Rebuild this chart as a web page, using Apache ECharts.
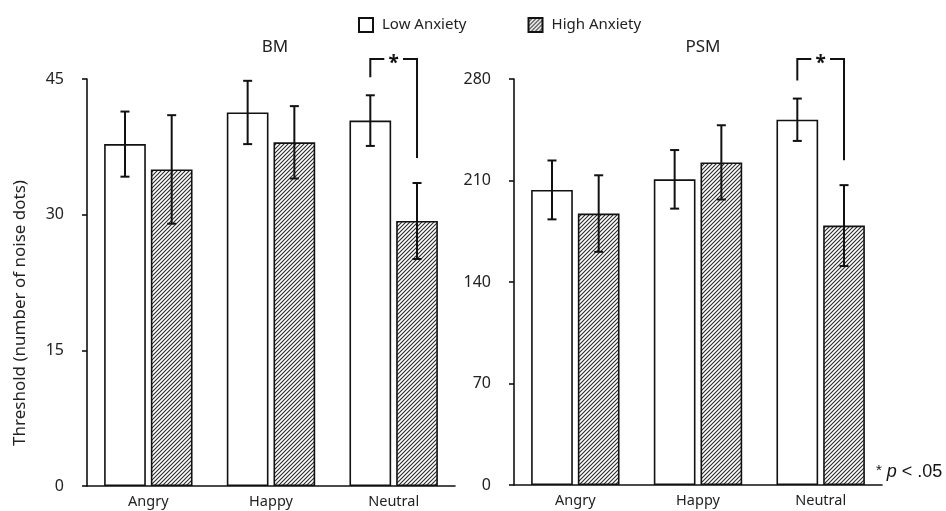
<!DOCTYPE html>
<html>
<head>
<meta charset="utf-8">
<script src="https://cdn.jsdelivr.net/npm/echarts@6/dist/echarts.min.js"></script>
<style>
  html, body { margin: 0; padding: 0; background: #fff; }
  #chart { width: 946px; height: 511px; }
</style>
</head>
<body>
<div id="chart"></div>
<script>
// Emotion categories shared by both panels
const categories = ['Angry', 'Happy', 'Neutral'];

// BM panel: means and error half-widths
const bmLow = [37.8, 41.3, 40.4];
const bmLowErr = [3.6, 3.5, 2.8];
const bmHigh = [35.0, 38.0, 29.3];
const bmHighErr = [6.0, 4.0, 4.2];

// PSM panel: means and error half-widths
const psmLow = [203.5, 210.8, 251.9];
const psmLowErr = [20.3, 20.2, 14.6];
const psmHigh = [187.2, 222.5, 178.9];
const psmHighErr = [26.4, 25.6, 27.9];

// Axis tick settings
const bmAxis = { max: 45, interval: 15 };
const psmAxis = { max: 280, interval: 70 };

// Index of the category marked as significant
const sigIndex = 2;

const FONT = 'Noto Sans';
const INK = '#222';
const BAR_FRAC = 0.34;   // bar width as a fraction of the category band
const BAR_GAP = 0.12;    // gap between paired bars, fraction of bar width

// Diagonal hatch fill for the High Anxiety bars
function makeHatch() {
  const s = 4;
  const c = document.createElement('canvas');
  c.width = s; c.height = s;
  const ctx = c.getContext('2d');
  ctx.fillStyle = '#fff';
  ctx.fillRect(0, 0, s, s);
  ctx.strokeStyle = '#2a2a2a';
  ctx.lineWidth = 1.1;
  ctx.beginPath();
  ctx.moveTo(0, s); ctx.lineTo(s, 0);
  ctx.moveTo(-1, 1); ctx.lineTo(1, -1);
  ctx.moveTo(s - 1, s + 1); ctx.lineTo(s + 1, s - 1);
  ctx.stroke();
  return c;
}
const hatch = { image: makeHatch(), repeat: 'repeat' };

function barOffset(band, side) {
  const w = band * BAR_FRAC;
  return side * (w + w * BAR_GAP) / 2;
}

// Error bars drawn at the centre of each bar in a pair
function errorRender(side) {
  return function (params, api) {
    const cat = api.value(0);
    const v = api.value(1);
    const e = api.value(2);
    const band = api.size([1, 0])[0];
    const x = api.coord([cat, v])[0] + barOffset(band, side);
    const yTop = api.coord([cat, v + e])[1];
    const yBot = api.coord([cat, v - e])[1];
    const cap = 4.5;
    const style = { stroke: '#111', lineWidth: 2, fill: 'none' };
    return {
      type: 'group',
      children: [
        { type: 'line', shape: { x1: x, y1: yTop, x2: x, y2: yBot }, style },
        { type: 'line', shape: { x1: x - cap, y1: yTop, x2: x + cap, y2: yTop }, style },
        { type: 'line', shape: { x1: x - cap, y1: yBot, x2: x + cap, y2: yBot }, style }
      ]
    };
  };
}

// Significance bracket joining the two bars of one category
function bracketRender(params, api) {
  const cat = api.value(0);
  const lowTop = api.value(1);
  const highTop = api.value(2);
  const axisTop = api.value(3);
  const band = api.size([1, 0])[0];
  const cx = api.coord([cat, 0])[0];
  const xl = cx + barOffset(band, -1);
  const xr = cx + barOffset(band, 1);
  const yTopLine = api.coord([cat, axisTop])[1] - 20;
  const yl = api.coord([cat, lowTop])[1] - 18;
  const yr = api.coord([cat, highTop])[1] - 25;
  const arm = 14;
  const style = { stroke: '#111', lineWidth: 2, fill: 'none' };
  return {
    type: 'group',
    children: [
      { type: 'polyline', shape: { points: [[xl, yl], [xl, yTopLine], [xl + arm, yTopLine]] }, style },
      { type: 'polyline', shape: { points: [[xr - arm, yTopLine], [xr, yTopLine], [xr, yr]] }, style },
      { type: 'text', style: { text: '*', x: (xl + xr) / 2, y: yTopLine - 5, align: 'center', verticalAlign: 'top',
        font: 'bold 19px "' + FONT + '"', fill: '#111' } }
    ]
  };
}

function yAxisFor(cfg, gridIndex) {
  return {
    type: 'value', gridIndex, min: 0, max: cfg.max, interval: cfg.interval,
    axisLine: { show: true, lineStyle: { color: '#111', width: 1.6 } },
    axisTick: { show: true, length: 5, lineStyle: { color: '#111', width: 1.6 } },
    axisLabel: { margin: 23, color: INK, fontFamily: FONT, fontSize: 16 },
    splitLine: { show: false }
  };
}

function xAxisFor(gridIndex) {
  return {
    type: 'category', gridIndex, data: categories,
    axisLine: { show: true, lineStyle: { color: '#111', width: 1.6 } },
    axisTick: { show: false },
    axisLabel: { margin: 8, color: INK, fontFamily: FONT, fontSize: 14.5 }
  };
}

const lowStyle = { color: '#fff', borderColor: '#111', borderWidth: 1.6 };
const highStyle = { color: hatch, borderColor: '#111', borderWidth: 1.6 };

function panelSeries(idx, low, lowErr, high, highErr, axisMax) {
  return [
    { name: 'Low Anxiety', type: 'bar', xAxisIndex: idx, yAxisIndex: idx, data: low,
      barWidth: (BAR_FRAC * 100) + '%', barGap: (BAR_GAP * 100) + '%', itemStyle: lowStyle, silent: true },
    { name: 'High Anxiety', type: 'bar', xAxisIndex: idx, yAxisIndex: idx, data: high,
      barWidth: (BAR_FRAC * 100) + '%', barGap: (BAR_GAP * 100) + '%', itemStyle: highStyle, silent: true },
    { type: 'custom', xAxisIndex: idx, yAxisIndex: idx, renderItem: errorRender(-1), clip: false, silent: true, z: 5,
      data: low.map((v, i) => [i, v, lowErr[i]]) },
    { type: 'custom', xAxisIndex: idx, yAxisIndex: idx, renderItem: errorRender(1), clip: false, silent: true, z: 5,
      data: high.map((v, i) => [i, v, highErr[i]]) },
    { type: 'custom', xAxisIndex: idx, yAxisIndex: idx, renderItem: bracketRender, clip: false, silent: true, z: 5,
      data: [[sigIndex, low[sigIndex] + lowErr[sigIndex], high[sigIndex] + highErr[sigIndex], axisMax]] }
  ];
}

const chart = echarts.init(document.getElementById('chart'), null, { renderer: 'canvas' });
chart.setOption({
  animation: false,
  backgroundColor: '#fff',
  textStyle: { fontFamily: FONT },
  title: [
    { text: 'BM', left: 270, top: 34, textAlign: 'center',
      textStyle: { fontFamily: FONT, fontSize: 17, fontWeight: 'normal', color: INK } },
    { text: 'PSM', left: 698, top: 34, textAlign: 'center',
      textStyle: { fontFamily: FONT, fontSize: 17, fontWeight: 'normal', color: INK } }
  ],
  legend: {
    left: 353, top: 12, itemWidth: 14, itemHeight: 14, itemGap: 61,
    icon: 'rect',
    data: ['Low Anxiety', 'High Anxiety'],
    textStyle: { fontFamily: FONT, fontSize: 15, color: INK, padding: [0, 0, 0, 4] },
    selectedMode: false
  },
  grid: [
    { left: 87, right: 491, top: 79, bottom: 25 },
    { left: 514, right: 64, top: 79, bottom: 26 }
  ],
  xAxis: [xAxisFor(0), xAxisFor(1)],
  yAxis: [yAxisFor(bmAxis, 0), yAxisFor(psmAxis, 1)],
  graphic: [
    { type: 'text', x: 20, y: 313, rotation: Math.PI / 2,
      style: { text: 'Threshold (number of noise dots)', font: '17px "' + FONT + '"', fill: INK,
        align: 'center', verticalAlign: 'middle' } },
    { type: 'text', x: 876, y: 463,
      style: { text: '{s|*} {p|p} < .05', fill: '#111',
        rich: {
          s: { fontFamily: 'Liberation Sans', fontSize: 15, fill: '#111', verticalAlign: 'top' },
          p: { fontFamily: 'Liberation Sans', fontSize: 18, fontStyle: 'italic', fill: '#111' }
        },
        font: '18px "Liberation Sans"' } }
  ],
  series: [
    ...panelSeries(0, bmLow, bmLowErr, bmHigh, bmHighErr, bmAxis.max),
    ...panelSeries(1, psmLow, psmLowErr, psmHigh, psmHighErr, psmAxis.max)
  ]
});
</script>
</body>
</html>
